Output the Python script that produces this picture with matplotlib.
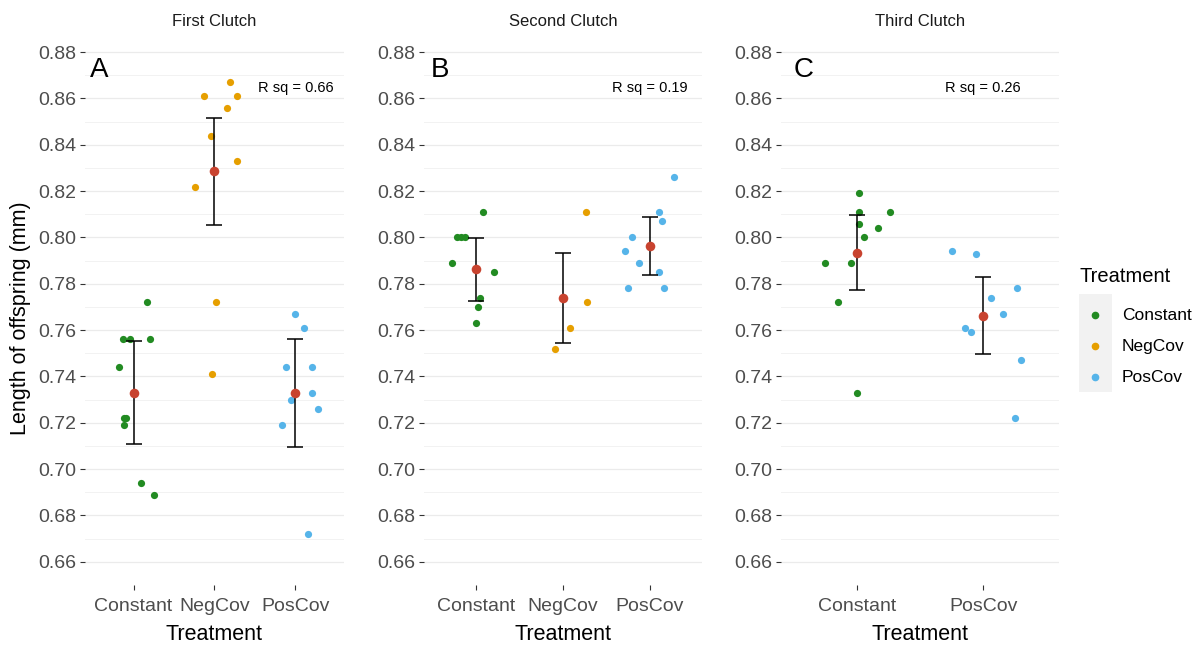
import matplotlib

matplotlib.use("Agg")
import matplotlib.pyplot as plt
from matplotlib.lines import Line2D
from matplotlib.patches import Rectangle
import numpy as np

plt.rcParams["font.family"] = ["Liberation Sans", "DejaVu Sans"]

COLORS = {"Constant": "#228B22", "NegCov": "#E69F00", "PosCov": "#56B4E9"}
MEAN_COLOR = "#C8432F"

CLUTCHES = ["First Clutch", "Second Clutch", "Third Clutch"]
LETTERS = ["A", "B", "C"]
R_SQ = ["0.66", "0.19", "0.26"]
TREATMENTS = [
    ["Constant", "NegCov", "PosCov"],
    ["Constant", "NegCov", "PosCov"],
    ["Constant", "PosCov"],
]

# offspring length (mm); *_jit is the horizontal jitter
first_constant = [0.772, 0.756, 0.756, 0.756, 0.744, 0.722, 0.722, 0.719, 0.694, 0.689]
first_constant_jit = [0.16, -0.13, -0.05, 0.20, -0.18, -0.12, -0.09, -0.12, 0.09, 0.25]
first_negcov = [0.867, 0.861, 0.861, 0.856, 0.844, 0.833, 0.822, 0.772, 0.741]
first_negcov_jit = [0.19, -0.13, 0.28, 0.15, -0.04, 0.28, -0.24, 0.02, -0.03]
first_poscov = [0.767, 0.761, 0.744, 0.744, 0.733, 0.730, 0.726, 0.719, 0.672]
first_poscov_jit = [0.0, 0.10, -0.12, 0.20, 0.20, -0.06, 0.28, -0.17, 0.15]

second_constant = [0.811, 0.800, 0.800, 0.800, 0.789, 0.785, 0.774, 0.770, 0.763]
second_constant_jit = [0.08, -0.22, -0.17, -0.13, -0.28, 0.20, 0.05, 0.02, 0.0]
second_negcov = [0.811, 0.772, 0.761, 0.752]
second_negcov_jit = [0.26, 0.28, 0.08, -0.09]
second_poscov = [0.826, 0.811, 0.807, 0.800, 0.794, 0.789, 0.785, 0.778, 0.778]
second_poscov_jit = [0.28, 0.10, 0.14, -0.21, -0.29, -0.13, 0.11, -0.25, 0.16]

third_constant = [0.819, 0.811, 0.811, 0.806, 0.804, 0.800, 0.789, 0.789, 0.772, 0.733]
third_constant_jit = [0.02, 0.02, 0.26, 0.02, 0.17, 0.06, -0.25, -0.05, -0.15, 0.0]
third_poscov = [0.794, 0.793, 0.778, 0.774, 0.767, 0.761, 0.759, 0.747, 0.722]
third_poscov_jit = [-0.25, -0.06, 0.27, 0.06, 0.16, -0.14, -0.10, 0.30, 0.25]

# model means with confidence limits, in treatment order
first_mean = [0.733, 0.8286, 0.733]
first_lower = [0.7107, 0.8053, 0.7094]
first_upper = [0.7553, 0.8515, 0.7560]
second_mean = [0.7865, 0.7737, 0.7962]
second_lower = [0.7724, 0.7543, 0.7837]
second_upper = [0.7997, 0.7932, 0.8087]
third_mean = [0.7932, 0.7660]
third_lower = [0.7772, 0.7495]
third_upper = [0.8096, 0.7828]

POINTS = [
    [(first_constant, first_constant_jit), (first_negcov, first_negcov_jit),
     (first_poscov, first_poscov_jit)],
    [(second_constant, second_constant_jit), (second_negcov, second_negcov_jit),
     (second_poscov, second_poscov_jit)],
    [(third_constant, third_constant_jit), (third_poscov, third_poscov_jit)],
]
SUMMARY = [
    (first_mean, first_lower, first_upper),
    (second_mean, second_lower, second_upper),
    (third_mean, third_lower, third_upper),
]

W, H = 1201, 646
# panel rectangles in pixels: left, width
PANELS = [(85, 259), (424, 278), (781, 278)]
TOP, BOTTOM = 51, 585
YMIN, YMAX = 0.65, 0.8805

fig = plt.figure(figsize=(W / 100, H / 100), dpi=100)

for i, (left, width) in enumerate(PANELS):
    ax = fig.add_axes([left / W, 1 - BOTTOM / H, width / W, (BOTTOM - TOP) / H])
    treatments = TREATMENTS[i]
    x = np.arange(1, len(treatments) + 1)

    for j, name in enumerate(treatments):
        vals, jit = POINTS[i][j]
        ax.scatter(x[j] + np.array(jit), vals, s=27, color=COLORS[name],
                   linewidth=0, zorder=3)

    mean, lower, upper = (np.array(a) for a in SUMMARY[i])
    ax.errorbar(x, mean, yerr=[mean - lower, upper - mean], fmt="none",
                ecolor="black", elinewidth=1.1, capsize=6, capthick=1.1, zorder=4)
    ax.scatter(x, mean, s=48, color=MEAN_COLOR, linewidth=0, zorder=5)

    ax.set_xlim(0.4, len(treatments) + 0.6)
    ax.set_ylim(YMIN, YMAX)
    ax.set_xticks(x)
    ax.set_xticklabels(treatments)
    ax.set_yticks(np.arange(0.66, 0.8801, 0.02))
    ax.set_yticklabels([f"{v:.2f}" for v in np.arange(0.66, 0.8801, 0.02)])
    ax.set_yticks(np.arange(0.65, 0.875, 0.02), minor=True)
    ax.grid(axis="y", which="major", color="#EBEBEB", linewidth=0.9)
    ax.grid(axis="y", which="minor", color="#F2F2F2", linewidth=0.7)
    ax.set_axisbelow(True)
    for s in ax.spines.values():
        s.set_visible(False)
    ax.tick_params(axis="both", which="major", length=3.5, width=0.8,
                   color="#333333", labelsize=14, labelcolor="#4D4D4D", pad=3)
    ax.tick_params(axis="x", which="major", pad=6)
    ax.tick_params(axis="y", which="minor", length=0)

    ax.set_xlabel("Treatment", fontsize=15.5, va="center")
    ax.xaxis.set_label_coords(0.5, -50 / (BOTTOM - TOP))
    if i == 0:
        ax.set_ylabel("Length of offspring (mm)", fontsize=15.5, va="center")
        ax.yaxis.set_label_coords(-65 / width, 0.5)

    ax.text(0.5, 1 + 30 / (BOTTOM - TOP), CLUTCHES[i], transform=ax.transAxes,
            ha="center", va="center", fontsize=12, color="#1A1A1A")
    ax.text(0.58, 0.8725, LETTERS[i], ha="center", va="center", fontsize=20)
    ax.text(x[-1], 0.8645, f"R sq = {R_SQ[i]}", ha="center", va="center",
            fontsize=10.5)

# legend, drawn by hand to get the grey key background of ggplot
fig.text(1080 / W, 1 - 276 / H, "Treatment", fontsize=14.5, ha="left", va="center")
fig.add_artist(Rectangle((1079 / W, 1 - 392 / H), 33 / W, 98 / H,
                         transform=fig.transFigure, facecolor="#F2F2F2",
                         edgecolor="none"))
for k, (name, color) in enumerate(COLORS.items()):
    yk = 1 - (315 + 31 * k) / H
    fig.add_artist(Line2D([1095 / W], [yk], marker="o", markersize=4.5,
                          color=color, linestyle="none", transform=fig.transFigure))
    fig.text(1122 / W, yk, name, fontsize=12.5, ha="left", va="center")

fig.savefig("out.png", dpi=100)
